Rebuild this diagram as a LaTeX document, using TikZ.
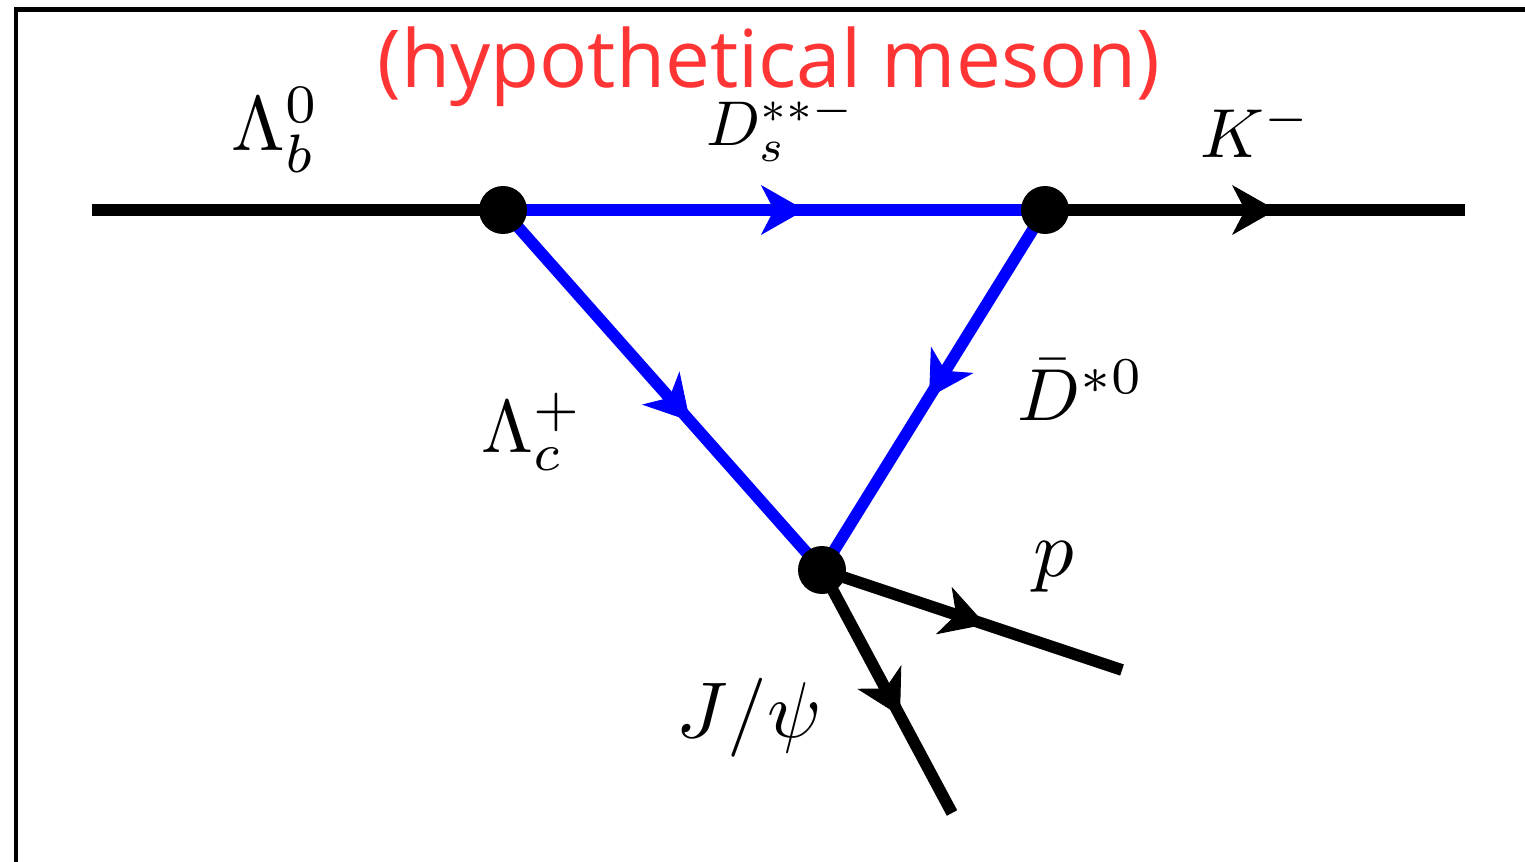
\documentclass[tikz,border=0pt]{standalone}
\usepackage{fontspec}
\newfontfamily\titlefont{Open Sans}
\usetikzlibrary{arrows.meta,decorations.markings}
\definecolor{titlered}{HTML}{FF3535}
\definecolor{lineblue}{HTML}{0000FF}
\tikzset{
  prop/.style={line width=0.235cm, line cap=butt},
  blk/.style={prop, black},
  blu/.style={prop, lineblue},
  arr/.style={postaction={decorate, decoration={markings,
     mark=at position #1 with {\arrow[line width=0.5pt]{Stealth[length=0.88cm,width=1.0cm,inset=0.26cm]}}}}},
  vtx/.style={circle, fill=black, inner sep=0pt, minimum size=0.96cm},
  lbl/.style={font=\normalsize, inner sep=0pt, scale=#1},
  lbl/.default=4.4,
  frame/.style={line width=0.1cm, black}
}
\begin{document}
\begin{tikzpicture}[x=0.02cm, y=-0.02cm]
\useasboundingbox (0,0) rectangle (1525,862);
% frame
\coordinate (fTR) at (1525,9.5);
\coordinate (fTL) at (16,9.5);
\coordinate (fBL) at (16,862);
\draw[frame, line join=miter] (fTR) -- (fTL) -- (fBL);
% coordinates
\coordinate (in) at (92,210);
\coordinate (out) at (1465,210);
\coordinate (pend) at (1122,670);
\coordinate (jend) at (952,813);
\coordinate (A) at (503,210);
\coordinate (B) at (1045,210);
\coordinate (C) at (822,570);
% lines
\draw[blk] (in) -- (A);
\draw[blu, arr=0.557] (A) -- (B);
\draw[blk, arr=0.55] (B) -- (out);
\draw[blu, arr=0.586] (A) -- (C);
\draw[blu, arr=0.52] (B) -- (C);
\draw[blk, arr=0.545] (C) -- (pend);
\draw[blk, arr=0.6] (C) -- (jend);
% vertices
\node[vtx] (vA) at (A) {};
\node[vtx] (vB) at (B) {};
\node[vtx] (vC) at (C) {};
% labels
\node[lbl] (lLb) at (276,130) {$\Lambda_b^0$};
\node[lbl=3.6] (lDs) at (781,128) {$D_s^{**-}$};
\node[lbl=3.95] (lK) at (1256,130) {$K^-$};
\node[lbl=4.25] (lLc) at (532,432) {$\Lambda_c^+$};
\node[lbl=4.2] (lD) at (1081,390) {$\bar D^{*0}$};
\node[lbl=4.6] (lp) at (1054,567) {$p$};
\node[lbl=4.5] (lJ) at (749,718) {$J/\psi$};
% title
\node[inner sep=0pt, anchor=base, text=titlered, font=\titlefont\fontsize{45.5}{55}\selectfont] (title) at (769,87) {(hypothetical meson)};
\end{tikzpicture}
\end{document}
